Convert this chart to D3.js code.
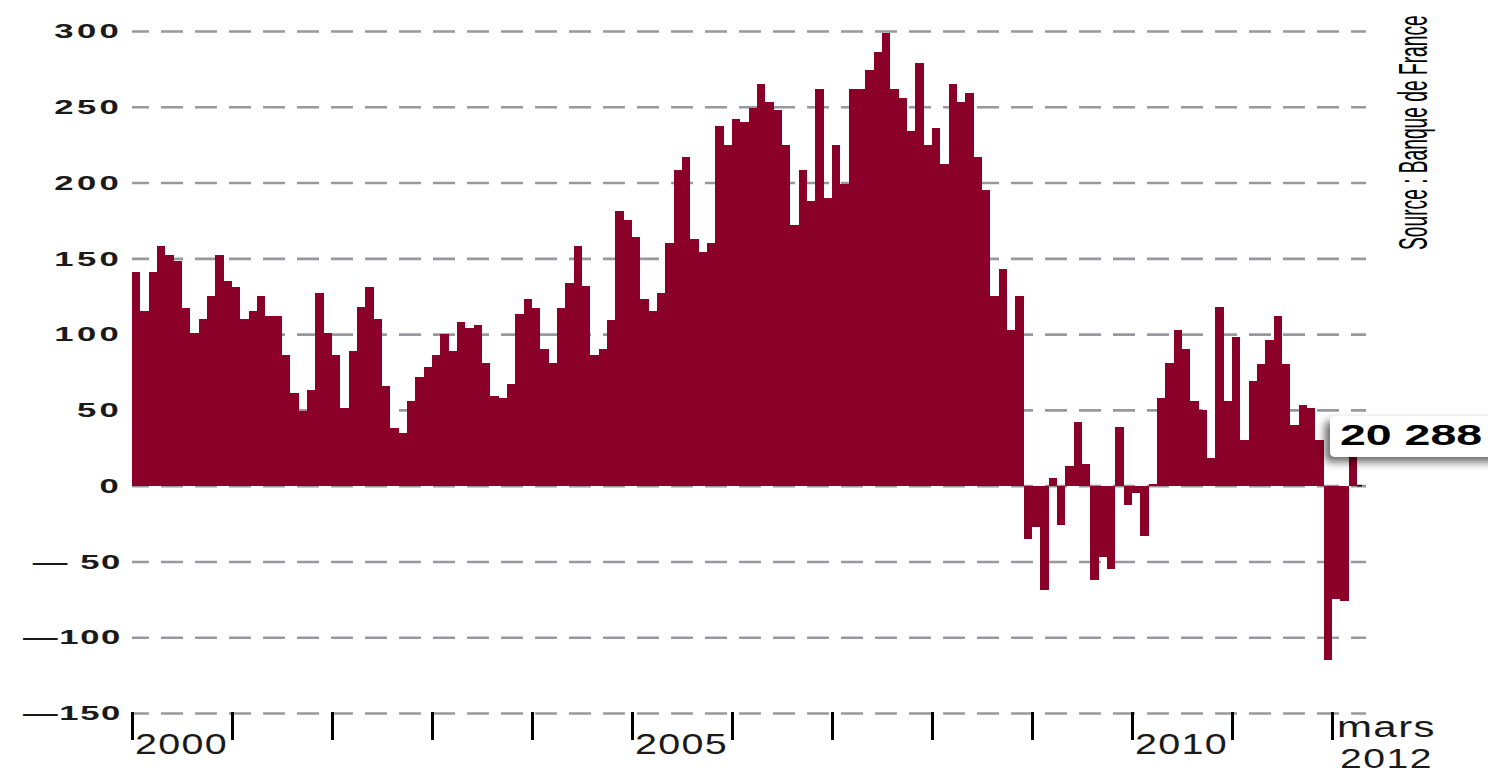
<!DOCTYPE html>
<html>
<head>
<meta charset="utf-8">
<script src="https://cdn.jsdelivr.net/npm/d3@7"></script>
<style>
    html, body { margin: 0; padding: 0; background: #fff; }
    svg { display: block; }
</style>
</head>
<body>
<div id="chart"></div>
<script>
// Monthly values (Jan 2000 - Mar 2012)
const flux2000 = [141, 115, 141, 158, 152, 148, 117, 101, 110, 125, 152, 135]
const flux2001 = [131, 110, 115, 125, 112, 112, 86, 61, 49, 63, 127, 101]
const flux2002 = [86, 51, 89, 118, 131, 110, 66, 38, 35, 56, 72, 78]
const flux2003 = [86, 100, 89, 108, 104, 106, 81, 59, 58, 67, 113, 123]
const flux2004 = [117, 90, 81, 117, 134, 158, 132, 86, 90, 109, 181, 175]
const flux2005 = [164, 123, 115, 127, 160, 208, 217, 163, 154, 160, 237, 225]
const flux2006 = [242, 240, 249, 265, 253, 248, 225, 172, 208, 188, 262, 190]
const flux2007 = [225, 199, 262, 262, 274, 286, 299, 262, 256, 234, 279, 225]
const flux2008 = [236, 212, 265, 253, 259, 217, 195, 125, 143, 103, 125, -35]
const flux2009 = [-27, -69, 5, -26, 13, 42, 14, -62, -47, -55, 39, -13]
const flux2010 = [-5, -33, 1, 58, 81, 103, 90, 56, 50, 18, 118, 56]
const flux2011 = [98, 30, 69, 80, 96, 112, 80, 40, 53, 51, 30, -115]
const flux2012 = [-75, -76, 20.288]

// Axis ticks and labels
const yTicks = [300, 250, 200, 150, 100, 50, 0, -50, -100, -150]
const yTickLabels = ['300', '250', '200', '150', '100', '50', '0', '\u2014 50', '\u2014100', '\u2014150']
const yearTickMonths = [0, 12, 24, 36, 48, 60, 72, 84, 96, 108, 120, 132, 144]
const yearLabelMonths = [0, 60, 120]
const yearLabels = ['2000', '2005', '2010']
const endLabel = ['mars', '2012']
const lastValueLabel = '20 288'
const sourceLabel = 'Source : Banque de France'

const values = [].concat(
    flux2000, flux2001, flux2002, flux2003, flux2004, flux2005,
    flux2006, flux2007, flux2008, flux2009, flux2010, flux2011, flux2012
)

const config = {
    w: 1488,
    h: 774,
    left: 132, // x of Jan 2000
    right: 1366, // end of grid lines
    top: 31, // y of 300
    bottom: 713, // y of -150
    barColor: '#8a0029',
    gridColor: '#98989e',
    font: '"Liberation Sans", Arial, Helvetica, sans-serif',
}

const svg = d3
    .select('#chart')
    .append('svg')
    .attr('width', config.w)
    .attr('height', config.h)

// Scales: one unit per month, 100 px per year
const x = d3.scaleLinear().domain([0, 144]).range([config.left, 1332])
const y = d3.scaleLinear().domain([-150, 300]).range([config.bottom, config.top])

// Y axis with dashed grid lines
const yScaleX = 1.65
const yAxis = d3
    .axisLeft(y)
    .tickValues(yTicks)
    .tickFormat((d, i) => yTickLabels[i])
    .tickSize(-(config.right - config.left))
    .tickPadding(8)

const yg = svg
    .append('g')
    .attr('transform', `translate(${config.left},0)`)
    .call(yAxis)
yg.select('.domain').remove()
yg.selectAll('.tick line')
    .attr('stroke', config.gridColor)
    .attr('stroke-width', 2.6)
    .attr('stroke-dasharray', '22,12')
    .attr('stroke-dashoffset', 5)
yg.selectAll('.tick text')
    .attr('x', -10 / yScaleX)
    .attr('transform', `scale(${yScaleX},1)`)
    .attr('fill', '#1a1a1a')
    .style('font-family', config.font)
    .style('font-size', '21px')
    .style('font-weight', 'bold')
    .style('letter-spacing', (d) => (d < 0 ? '1px' : '2px'))

// Bars
svg.append('g')
    .selectAll('rect')
    .data(values)
    .join('rect')
    .attr('x', (d, i) => x(i))
    .attr('width', (d, i) => x(i + 1) - x(i))
    .attr('y', (d) => y(Math.max(0, d)))
    .attr('height', (d) => Math.abs(y(d) - y(0)))
    .attr('fill', config.barColor)
    .attr('shape-rendering', 'crispEdges')

// X axis: year boundary ticks
const xAxis = d3.axisBottom(x).tickValues(yearTickMonths).tickSize(28).tickFormat('')
const xg = svg
    .append('g')
    .attr('transform', `translate(0,${config.bottom - 1})`)
    .call(xAxis)
xg.select('.domain').remove()
xg.selectAll('.tick line').attr('stroke', '#000').attr('stroke-width', 3)

const xScaleX = 1.36
const labelStyle = (sel, size) =>
    sel
        .attr('fill', '#1a1a1a')
        .style('font-family', config.font)
        .style('font-size', `${size}px`)
        .style('letter-spacing', '1px')

svg.append('g')
    .selectAll('text')
    .data(yearLabels)
    .join('text')
    .attr('transform', (d, i) => `translate(${x(yearLabelMonths[i]) + 3},754) scale(${xScaleX},1)`)
    .text((d) => d)
    .call(labelStyle, 29)

svg.append('text')
    .attr('transform', `translate(${x(144) + 5},737) scale(1.4,1)`)
    .text(endLabel[0])
    .call(labelStyle, 30)
svg.append('text')
    .attr('transform', `translate(${x(144) + 8},768) scale(1.45,1)`)
    .text(endLabel[1])
    .call(labelStyle, 27)

// Callout for the last value
const defs = svg.append('defs')
const shadow = defs
    .append('filter')
    .attr('id', 'shadow')
    .attr('x', '-20%')
    .attr('y', '-40%')
    .attr('width', '140%')
    .attr('height', '180%')
shadow.append('feGaussianBlur').attr('in', 'SourceAlpha').attr('stdDeviation', 4)
shadow.append('feOffset').attr('dx', -5).attr('dy', 5).attr('result', 'blur')
shadow.append('feComponentTransfer').append('feFuncA').attr('type', 'linear').attr('slope', 0.6)
const merge = shadow.append('feMerge')
merge.append('feMergeNode')
merge.append('feMergeNode').attr('in', 'SourceGraphic')

const lastIndex = values.length - 1
svg.append('line')
    .attr('x1', x(lastIndex + 1))
    .attr('x2', x(lastIndex + 1) + 5)
    .attr('y1', y(0))
    .attr('y2', y(0))
    .attr('stroke', '#000')
    .attr('stroke-width', 1.5)

svg.append('rect')
    .attr('x', 1330)
    .attr('y', 416)
    .attr('width', 175)
    .attr('height', 41)
    .attr('rx', 5)
    .attr('fill', '#fff')
    .attr('filter', 'url(#shadow)')

svg.append('text')
    .attr('transform', 'translate(1340,445) scale(1.55,1)')
    .text(lastValueLabel)
    .attr('fill', '#000')
    .style('font-family', config.font)
    .style('font-size', '30px')
    .style('font-weight', 'bold')

// Source, rotated along the right edge (condensed)
svg.append('text')
    .attr('transform', 'translate(1427,250) rotate(-90) scale(0.48,1)')
    .text(sourceLabel)
    .attr('fill', '#000')
    .style('font-family', config.font)
    .style('font-size', '40px')
</script>
</body>
</html>
